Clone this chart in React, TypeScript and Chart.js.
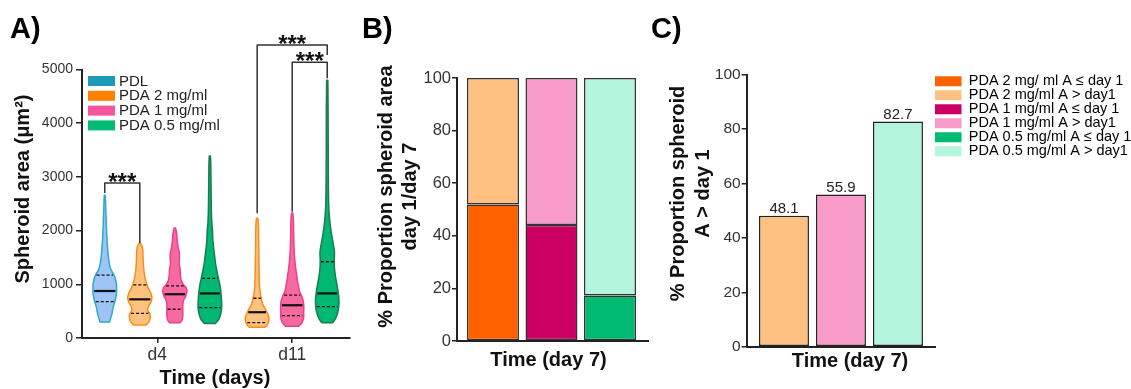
import React, { useEffect, useRef } from "react";
import { Chart, registerables } from "chart.js";

Chart.register(...registerables);

const FONT = "'Liberation Sans', Arial, Helvetica, sans-serif";
Chart.defaults.font.family = FONT;

// ---------------- Panel A data ----------------
const groupNames = ["PDL", "PDA 2 mg/ml", "PDA 1 mg/ml", "PDA 0.5 mg/ml"];
const dayLabels = ["d4", "d11"];
const violinGroup = [0, 1, 2, 3, 1, 2, 3];
const violinDay = [0, 0, 0, 0, 1, 1, 1];
const violinMedian = [875, 720, 815, 830, 480, 610, 830];
const violinQ1 = [676, 460, 535, 565, 285, 415, 585];
const violinQ3 = [1170, 990, 970, 1110, 740, 800, 1420];
const areaTicks = [0, 1000, 2000, 3000, 4000, 5000];

// density profiles: [area value, relative width]
const densPDLd4 = [[300,0.4],[380,0.5],[460,0.6],[560,0.68],[650,0.8],[740,0.9],[830,0.97],[930,0.98],[1030,0.95],[1120,0.85],[1200,0.7],[1280,0.5],[1380,0.38],[1500,0.3],[1650,0.24],[1850,0.18],[2050,0.14],[2300,0.1],[2500,0.07],[2660,0.04]];
const densPDA2d4 = [[240,0.5],[290,0.72],[360,0.85],[440,0.85],[520,0.65],[590,0.72],[670,0.92],[750,1.0],[830,0.92],[920,0.72],[1000,0.58],[1100,0.45],[1220,0.36],[1350,0.3],[1500,0.27],[1620,0.25],[1700,0.2],[1770,0.06]];
const densPDA1d4 = [[285,0.45],[340,0.6],[420,0.66],[520,0.66],[620,0.66],[700,0.72],[780,0.9],[860,1.0],[930,0.95],[1000,0.7],[1080,0.52],[1180,0.46],[1280,0.44],[1380,0.36],[1480,0.38],[1580,0.38],[1680,0.28],[1800,0.2],[1950,0.15],[2050,0.06]];
const densPDA05d4 = [[270,0.45],[340,0.72],[430,0.88],[530,0.96],[630,0.98],[750,0.95],[880,0.9],[1000,0.82],[1120,0.7],[1250,0.58],[1400,0.46],[1550,0.38],[1700,0.3],[1850,0.24],[2000,0.22],[2150,0.16],[2400,0.12],[2800,0.1],[3200,0.08],[3390,0.05]];
const densPDA2d11 = [[200,0.65],[250,0.85],[320,0.97],[400,0.95],[480,0.82],[560,0.62],[640,0.45],[730,0.35],[830,0.26],[950,0.2],[1150,0.17],[1400,0.15],[1700,0.13],[1950,0.12],[2130,0.1],[2230,0.06]];
const densPDA1d11 = [[220,0.55],[290,0.82],[380,0.95],[480,0.95],[580,0.96],[680,0.92],[780,0.78],[870,0.6],[960,0.52],[1060,0.44],[1160,0.38],[1280,0.3],[1400,0.24],[1550,0.18],[1750,0.14],[2000,0.12],[2200,0.1],[2330,0.05]];
const densPDA05d11 = [[285,0.45],[360,0.68],[460,0.85],[580,0.95],[720,0.97],[860,0.9],[1000,0.8],[1150,0.68],[1300,0.6],[1450,0.58],[1600,0.6],[1750,0.5],[1900,0.38],[2050,0.28],[2250,0.18],[2500,0.12],[3000,0.09],[3600,0.08],[4300,0.07],[4800,0.05]];
const violinDensity = [densPDLd4, densPDA2d4, densPDA1d4, densPDA05d4, densPDA2d11, densPDA1d11, densPDA05d11];

// significance brackets (violin indices, area levels)
const sigFrom = [0, 4, 5];
const sigTo = [1, 6, 6];
const sigTop = [2886, 5456, 5133];
const sigFromEnd = [2700, 2322, 2352];
const sigToEnd = [1769, 5270, 4836];
const sigLabel = ["***", "***", "***"];

// ---------------- Panel B / C data ----------------
const propCategories = ["PDA 2 mg/ml", "PDA 1 mg/ml", "PDA 0.5 mg/ml"];
const propBelowDay1 = [51.9, 44.1, 17.3];
const propAboveDay1 = [48.1, 55.9, 82.7];
const percentTicks = [0, 20, 40, 60, 80, 100];
const propLegend = [
  "PDA 2 mg/ ml A \u2264 day 1",
  "PDA 2 mg/ml A > day1",
  "PDA 1 mg/ml A \u2264 day 1",
  "PDA 1 mg/ml A > day1",
  "PDA 0.5 mg/ml A \u2264 day 1",
  "PDA 0.5 mg/ml A > day1",
];

// ---------------- styles ----------------
const violinFill = ["#9DC4F5", "#FFC27E", "#F76AA0", "#00B872"];
const violinStroke = ["#2DAAC7", "#FF8B17", "#F23D8C", "#1C7B53"];
const swatchA = ["#1C9AB8", "#FF8000", "#F4559C", "#00BC74"];
const belowColors = ["#FF6100", "#CC0062", "#00BA72"];
const aboveColors = ["#FFC182", "#F89BC8", "#B3F5DD"];
const legendColorsC = [belowColors[0], aboveColors[0], belowColors[1], aboveColors[1], belowColors[2], aboveColors[2]];
const AXIS = "#222";
const TICKTXT = "#333";

// x positions (slot units) for the violins
const dayCenters = [2.5, 6.35];
const violinSlot = violinGroup.map((g, i) => {
  const same = violinGroup.filter((_, j) => violinDay[j] === violinDay[i]);
  const rank = same.indexOf(g);
  return dayCenters[violinDay[i]] + rank - (same.length - 1) / 2;
});

function widthAt(dens: number[][], v: number) {
  for (let i = 0; i < dens.length - 1; i++) {
    const [v0, w0] = dens[i];
    const [v1, w1] = dens[i + 1];
    if (v >= v0 && v <= v1) return w0 + ((w1 - w0) * (v - v0)) / (v1 - v0);
  }
  return 0;
}

function spline(ctx: CanvasRenderingContext2D, p: { x: number; y: number }[]) {
  for (let i = 0; i < p.length - 1; i++) {
    const p0 = p[Math.max(i - 1, 0)];
    const p1 = p[i];
    const p2 = p[i + 1];
    const p3 = p[Math.min(i + 2, p.length - 1)];
    ctx.bezierCurveTo(
      p1.x + (p2.x - p0.x) / 6, p1.y + (p2.y - p0.y) / 6,
      p2.x - (p3.x - p1.x) / 6, p2.y - (p3.y - p1.y) / 6,
      p2.x, p2.y
    );
  }
}

type Decor = {
  label: string; labelX: number;
  yTitle: string[]; yTitleX: number; yTitleY: number; yTitleGap: number;
  xTitle: string; xTitleX: number; xTitleY: number;
};

function makeDecor(d: Decor) {
  return {
    id: "decor",
    afterDraw(chart: any) {
      const ctx: CanvasRenderingContext2D = chart.ctx;
      ctx.save();
      ctx.fillStyle = "#000";
      ctx.font = `bold 29px ${FONT}`;
      ctx.textAlign = "left";
      ctx.textBaseline = "alphabetic";
      ctx.fillText(d.label, d.labelX, 38);
      ctx.fillStyle = "#111";
      ctx.font = `bold 20px ${FONT}`;
      ctx.textAlign = "center";
      ctx.textBaseline = "middle";
      d.yTitle.forEach((t, i) => {
        ctx.save();
        ctx.translate(d.yTitleX + i * d.yTitleGap, d.yTitleY);
        ctx.rotate(-Math.PI / 2);
        ctx.fillText(t, 0, 0);
        ctx.restore();
      });
      ctx.fillText(d.xTitle, d.xTitleX, d.xTitleY);
      ctx.restore();
    },
  };
}

const violinPlugin = {
  id: "violins",
  afterDatasetsDraw(chart: any) {
    const ctx: CanvasRenderingContext2D = chart.ctx;
    const xs = chart.scales.x;
    const ys = chart.scales.y;
    const area = chart.chartArea;
    const half = 0.345;
    ctx.save();
    violinDensity.forEach((dens, i) => {
      const g = violinGroup[i];
      const c = violinSlot[i];
      const right = dens.map(([v, w]) => ({ x: xs.getPixelForValue(c + w * half), y: ys.getPixelForValue(v) }));
      const left = dens.map(([v, w]) => ({ x: xs.getPixelForValue(c - w * half), y: ys.getPixelForValue(v) })).reverse();
      ctx.beginPath();
      ctx.moveTo(left[left.length - 1].x, left[left.length - 1].y);
      ctx.lineTo(right[0].x, right[0].y);
      spline(ctx, right);
      ctx.lineTo(left[0].x, left[0].y);
      spline(ctx, left);
      ctx.closePath();
      ctx.fillStyle = violinFill[g];
      ctx.fill();
      ctx.lineWidth = 1.5;
      ctx.lineJoin = "round";
      ctx.strokeStyle = violinStroke[g];
      ctx.stroke();

      const statLine = (v: number, dashed: boolean) => {
        const w = widthAt(dens, v) * half * 0.9;
        const yy = ys.getPixelForValue(v);
        ctx.beginPath();
        ctx.setLineDash(dashed ? [3, 2] : []);
        ctx.lineWidth = dashed ? 1.3 : 2.2;
        ctx.strokeStyle = "#111";
        ctx.moveTo(xs.getPixelForValue(c - w), yy);
        ctx.lineTo(xs.getPixelForValue(c + w), yy);
        ctx.stroke();
        ctx.setLineDash([]);
      };
      statLine(violinQ1[i], true);
      statLine(violinQ3[i], true);
      statLine(violinMedian[i], false);
    });

    // significance brackets
    sigFrom.forEach((a, k) => {
      const b = sigTo[k];
      const xa = xs.getPixelForValue(violinSlot[a]);
      const xb = xs.getPixelForValue(violinSlot[b]);
      const yt = ys.getPixelForValue(sigTop[k]);
      ctx.beginPath();
      ctx.lineWidth = 1.5;
      ctx.strokeStyle = "#333";
      ctx.moveTo(xa, ys.getPixelForValue(sigFromEnd[k]));
      ctx.lineTo(xa, yt);
      ctx.lineTo(xb, yt);
      ctx.lineTo(xb, ys.getPixelForValue(sigToEnd[k]));
      ctx.stroke();
      ctx.font = `bold 24px ${FONT}`;
      const m = ctx.measureText(sigLabel[k]);
      const base = yt - 6 + (m.actualBoundingBoxAscent - m.actualBoundingBoxDescent) / 2;
      ctx.textAlign = "center";
      ctx.textBaseline = "alphabetic";
      ctx.fillStyle = "#111";
      ctx.fillText(sigLabel[k], (xa + xb) / 2, base);
    });

    // legend
    ctx.font = `15px ${FONT}`;
    ctx.textAlign = "left";
    ctx.textBaseline = "middle";
    groupNames.forEach((name, i) => {
      const yc = area.top + 11.5 + i * 14.8;
      ctx.fillStyle = swatchA[i];
      ctx.fillRect(area.left + 6, yc - 5, 27, 10);
      ctx.fillStyle = "#222";
      ctx.fillText(name, area.left + 37, yc + 0.5);
    });
    ctx.restore();
  },
};

const barValuePlugin = {
  id: "barValues",
  afterDatasetsDraw(chart: any) {
    const ctx: CanvasRenderingContext2D = chart.ctx;
    const meta = chart.getDatasetMeta(0);
    ctx.save();
    ctx.font = `15px ${FONT}`;
    ctx.fillStyle = "#222";
    ctx.textAlign = "center";
    ctx.textBaseline = "alphabetic";
    meta.data.forEach((bar: any, i: number) => {
      ctx.fillText(propAboveDay1[i].toFixed(1), bar.x, bar.y - 3);
    });
    ctx.restore();
  },
};

const yGrid = { display: true, drawOnChartArea: false, drawTicks: true, tickLength: 5, color: AXIS, lineWidth: 1.5 };
const border = { display: true, color: AXIS, width: 2 };

function configA(): any {
  return {
    type: "scatter",
    data: {
      datasets: [
        {
          label: "median",
          data: violinMedian.map((m, i) => ({ x: violinSlot[i], y: m })),
          pointRadius: 0,
          showLine: false,
        },
      ],
    },
    options: {
      responsive: false,
      animation: false,
      events: [],
      layout: { padding: { top: 69.5, right: 10, bottom: 0, left: 0 } },
      plugins: { legend: { display: false }, tooltip: { enabled: false } },
      scales: {
        x: {
          type: "linear",
          min: 0.35,
          max: 8.0,
          afterBuildTicks: (s: any) => {
            s.ticks = dayCenters.map((v) => ({ value: v }));
          },
          afterFit: (s: any) => {
            s.height = 51;
          },
          ticks: {
            callback: (_v: any, i: number) => dayLabels[i],
            font: { size: 17.5, family: FONT },
            color: TICKTXT,
            padding: 2,
            maxRotation: 0,
            autoSkip: false,
          },
          grid: { ...yGrid, tickLength: 5 },
          border,
        },
        y: {
          type: "linear",
          min: 0,
          max: 5000,
          afterBuildTicks: (s: any) => {
            s.ticks = areaTicks.map((v) => ({ value: v }));
          },
          afterFit: (s: any) => {
            s.width = 82;
          },
          ticks: {
            callback: (v: any) => String(v),
            font: { size: 14, family: FONT },
            color: TICKTXT,
            padding: 3,
          },
          grid: { ...yGrid, tickLength: 6 },
          border,
        },
      },
    },
    plugins: [
      violinPlugin,
      makeDecor({
        label: "A)", labelX: 10,
        yTitle: ["Spheroid area (\u03bcm\u00b2)"], yTitleX: 23.5, yTitleY: 189, yTitleGap: 0,
        xTitle: "Time (days)", xTitleX: 215, xTitleY: 378,
      }),
    ],
  };
}

function configB(): any {
  return {
    type: "bar",
    data: {
      datasets: [
        {
          label: "A \u2264 day 1",
          data: propBelowDay1.map((v, i) => ({ x: i, y: v })),
          backgroundColor: belowColors,
          borderColor: "#333",
          borderWidth: 1.5,
          borderSkipped: false,
          categoryPercentage: 1,
          barPercentage: 0.889,
        },
        {
          label: "A > day1",
          data: propAboveDay1.map((v, i) => ({ x: i, y: v })),
          backgroundColor: aboveColors,
          borderColor: "#333",
          borderWidth: 1.5,
          borderSkipped: false,
          categoryPercentage: 1,
          barPercentage: 0.889,
        },
      ],
    },
    options: {
      responsive: false,
      animation: false,
      events: [],
      layout: { padding: { top: 78, right: 12, bottom: 0, left: 0 } },
      plugins: { legend: { display: false }, tooltip: { enabled: false } },
      scales: {
        x: {
          type: "linear",
          stacked: true,
          offset: false,
          min: -0.615,
          max: 2.65,
          afterBuildTicks: (s: any) => {
            s.ticks = propCategories.map((_, i) => ({ value: i }));
          },
          afterFit: (s: any) => {
            s.height = 48;
          },
          ticks: { display: false },
          grid: { display: false },
          border,
        },
        y: {
          type: "linear",
          stacked: true,
          min: 0,
          max: 100,
          afterBuildTicks: (s: any) => {
            s.ticks = percentTicks.map((v) => ({ value: v }));
          },
          afterFit: (s: any) => {
            s.width = 97;
          },
          ticks: { font: { size: 16.5, family: FONT }, color: TICKTXT, padding: 1 },
          grid: yGrid,
          border,
        },
      },
    },
    plugins: [
      makeDecor({
        label: "B)", labelX: 2,
        yTitle: ["% Proportion spheroid area", "day 1/day 7"], yTitleX: 26.5, yTitleY: 196.5, yTitleGap: 23.5,
        xTitle: "Time (day 7)", xTitleX: 188.5, xTitleY: 360,
      }),
    ],
  };
}

function configC(): any {
  return {
    type: "bar",
    data: {
      datasets: [
        {
          label: "% A > day 1",
          data: propAboveDay1.map((v, i) => ({ x: i, y: v })),
          backgroundColor: aboveColors,
          borderColor: "#222",
          borderWidth: 1.5,
          borderSkipped: false,
          categoryPercentage: 1,
          barPercentage: 0.877,
        },
      ],
    },
    options: {
      responsive: false,
      animation: false,
      events: [],
      layout: { padding: { top: 74.5, right: 0, bottom: 0, left: 0 } },
      plugins: {
        tooltip: { enabled: false },
        legend: {
          display: true,
          position: "right",
          align: "start",
          maxWidth: 196,
          labels: {
            boxWidth: 27,
            boxHeight: 10,
            padding: -0.5,
            color: "#222",
            font: { size: 14.5, family: FONT },
            generateLabels: () =>
              propLegend.map((t, i) => ({
                text: t,
                fillStyle: legendColorsC[i],
                strokeStyle: legendColorsC[i],
                lineWidth: 0,
                hidden: false,
                datasetIndex: 0,
              })),
          },
        },
      },
      scales: {
        x: {
          type: "linear",
          offset: false,
          min: -0.654,
          max: 2.65,
          afterBuildTicks: (s: any) => {
            s.ticks = propCategories.map((_, i) => ({ value: i }));
          },
          afterFit: (s: any) => {
            s.height = 42.3;
          },
          ticks: { display: false },
          grid: { display: false },
          border,
        },
        y: {
          type: "linear",
          min: 0,
          max: 100,
          afterBuildTicks: (s: any) => {
            s.ticks = percentTicks.map((v) => ({ value: v }));
          },
          afterFit: (s: any) => {
            s.width = 96.7;
          },
          ticks: { font: { size: 15.5, family: FONT }, color: TICKTXT, padding: 1 },
          grid: yGrid,
          border,
        },
      },
    },
    plugins: [
      barValuePlugin,
      makeDecor({
        label: "C)", labelX: 1,
        yTitle: ["% Proportion spheroid", "A > day 1"], yTitleX: 28.5, yTitleY: 193.5, yTitleGap: 25,
        xTitle: "Time (day 7)", xTitleX: 200, xTitleY: 361.5,
      }),
    ],
  };
}

export default function App() {
  const aRef = useRef<HTMLCanvasElement>(null);
  const bRef = useRef<HTMLCanvasElement>(null);
  const cRef = useRef<HTMLCanvasElement>(null);

  useEffect(() => {
    const charts = [
      new Chart(aRef.current as HTMLCanvasElement, configA()),
      new Chart(bRef.current as HTMLCanvasElement, configB()),
      new Chart(cRef.current as HTMLCanvasElement, configC()),
    ];
    return () => charts.forEach((c) => c.destroy());
  }, []);

  return (
    <div style={{ position: "absolute", left: 0, top: 0, width: 1131, height: 389, background: "#fff", overflow: "hidden" }}>
      <canvas ref={aRef} width={360} height={389} style={{ position: "absolute", left: 0, top: 0 }} />
      <canvas ref={bRef} width={300} height={389} style={{ position: "absolute", left: 360, top: 0 }} />
      <canvas ref={cRef} width={481} height={389} style={{ position: "absolute", left: 650, top: 0 }} />
    </div>
  );
}
